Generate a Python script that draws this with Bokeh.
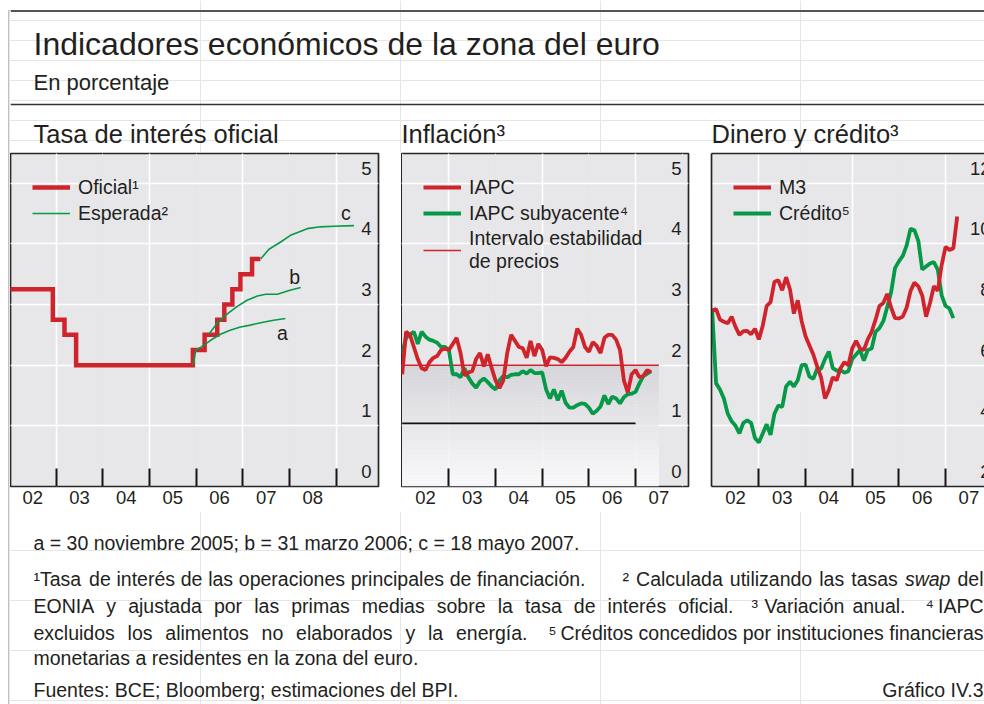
import datetime as dt
from bokeh.plotting import figure
from bokeh.models import Range1d, LinearAxis, FixedTicker, Grid, Legend, LegendItem
from bokeh.layouts import row, column
from bokeh.embed import file_html
from bokeh.resources import INLINE
from bokeh.core.properties import value

# ---------------------------------------------------------------- data
# Tasa de interés oficial (step dates / level, %)
official_dates = ["2002-01-01", "2002-12-06", "2003-03-07", "2003-06-06", "2005-12-06",
                  "2006-03-08", "2006-06-15", "2006-08-09", "2006-10-11", "2006-12-13",
                  "2007-03-14", "2007-05-18"]
official_rate = [3.25, 2.75, 2.50, 2.00, 2.25, 2.50, 2.75, 3.00, 3.25, 3.50, 3.75, 3.75]

# Esperada (expected path) a, b, c
exp_a_x = [2005.94, 2005.99, 2006.09, 2006.31, 2006.52, 2006.74, 2006.95, 2007.16, 2007.38, 2007.66, 2007.91]
exp_a_y = [2.00, 2.25, 2.29, 2.41, 2.51, 2.58, 2.63, 2.66, 2.70, 2.74, 2.77]
exp_b_x = [2006.27, 2006.45, 2006.66, 2006.88, 2007.09, 2007.31, 2007.49, 2007.74, 2007.99, 2008.24]
exp_b_y = [2.51, 2.69, 2.84, 2.97, 3.07, 3.14, 3.17, 3.17, 3.23, 3.28]
exp_c_x = [2007.38, 2007.56, 2007.81, 2008.02, 2008.38, 2008.66, 2008.95, 2009.38]
exp_c_y = [3.75, 3.91, 4.03, 4.14, 4.25, 4.28, 4.29, 4.30]
exp_labels = ["a", "b", "c"]

# Inflación (monthly, from Dec 2001)
infl_start = (2001, 12)
iapc = [1.85, 2.55, 2.50, 2.30, 2.10, 1.95, 1.92, 2.05, 2.12, 2.15, 2.25, 2.27,
        2.25, 2.35, 2.45, 2.20, 1.83, 1.88, 1.90, 2.10, 2.20, 1.98, 2.18, 1.95,
        1.75, 1.62, 1.75, 2.20, 2.50, 2.40, 2.30, 2.28, 2.12, 2.40, 2.15, 2.35,
        2.25, 1.98, 2.13, 2.12, 2.10, 2.05, 2.12, 2.22, 2.30, 2.60, 2.50, 2.30,
        2.22, 2.38, 2.32, 2.20, 2.45, 2.50, 2.50, 2.42, 2.25, 1.75, 1.55, 1.85,
        1.92, 1.80, 1.82, 1.92, 1.88]
iapc_sub = [2.20, 2.45, 2.50, 2.55, 2.35, 2.55, 2.47, 2.42, 2.40, 2.37, 2.30, 2.30,
            2.25, 1.85, 1.85, 1.80, 1.95, 1.80, 1.70, 1.63, 1.73, 1.78, 1.72, 1.65,
            1.60, 1.75, 1.82, 1.80, 1.84, 1.85, 1.85, 1.90, 1.86, 1.92, 1.87, 1.87,
            1.88, 1.60, 1.45, 1.60, 1.42, 1.58, 1.38, 1.30, 1.30, 1.34, 1.37, 1.36,
            1.30, 1.20, 1.25, 1.32, 1.50, 1.36, 1.48, 1.45, 1.37, 1.47, 1.52, 1.53,
            1.56, 1.70, 1.82, 1.86, 1.90]
# price-stability band and reference line
band_low, band_high = 0.0, 2.0
band_start, band_end = 2002.0, 2007.5
black_level, black_start, black_end = 1.04, 2002.0, 2007.0

# Dinero y crédito (monthly, from Dec 2001)
money_start = (2001, 12)
m3 = [7.80, 7.85, 7.50, 7.43, 7.38, 7.60, 7.26, 7.00, 7.12, 7.13, 7.02, 7.20,
      6.85, 7.30, 7.95, 8.08, 8.75, 8.80, 8.47, 8.90, 8.50, 7.70, 8.14, 7.45,
      6.95, 6.65, 6.35, 5.95, 5.60, 4.90, 5.18, 5.60, 5.50, 5.90, 6.10, 6.00,
      6.55, 6.80, 6.55, 6.50, 6.85, 7.10, 7.50, 7.95, 8.05, 8.35, 7.90, 7.55,
      7.54, 7.60, 7.90, 8.45, 8.72, 8.60, 8.30, 7.60, 8.05, 8.60, 8.45, 9.30,
      9.90, 9.80, 9.85, 10.90]
credito = [7.80, 5.40, 5.20, 4.90, 4.40, 4.15, 4.00, 3.75, 4.10, 4.18, 4.10, 3.60,
           3.45, 3.75, 4.05, 3.70, 4.40, 4.67, 4.62, 5.30, 5.45, 5.30, 5.50, 6.00,
           6.02, 5.62, 5.55, 5.88, 5.88, 6.20, 6.45, 5.90, 5.82, 5.84, 5.75, 5.80,
           6.20, 6.35, 6.50, 6.15, 6.50, 6.55, 7.10, 7.22, 7.45, 7.92, 8.40, 9.20,
           9.42, 9.60, 9.95, 10.50, 10.45, 10.10, 9.15, 9.25, 9.35, 9.40, 9.15, 8.30,
           7.95, 7.87, 7.55]

# axes
years_p1 = [2002, 2003, 2004, 2005, 2006, 2007, 2008]
labels_p1 = ["02", "03", "04", "05", "06", "07", "08"]
years_p23 = [2002, 2003, 2004, 2005, 2006, 2007]
labels_p23 = ["02", "03", "04", "05", "06", "07"]
yticks_pct = [0, 1, 2, 3, 4, 5]
yticks_money = [2, 4, 6, 8, 10, 12]

# ---------------------------------------------------------------- style
FONT = "Liberation Sans"
TXT = "#231f20"
RED = "#d0242c"
GREEN = "#079848"
BG = "#e7e7ea"
FRAME_C = "#262626"
PX_PER_YEAR = 46.67
PX_PER_UNIT = 60.67
FRAME_H = 333
AXIS_H = 25
NOTE_SIZE = 19.5
SERIES_W = 3.8

# Arial / Liberation Sans advance widths (1/1000 em) for justified notes
_W = {" ": 278, ".": 278, ",": 278, ";": 278, ":": 278, "=": 584,
      "a": 556, "b": 556, "c": 500, "d": 556, "e": 556, "f": 278, "g": 556, "h": 556,
      "i": 222, "j": 222, "k": 500, "l": 222, "m": 833, "n": 556, "o": 556, "p": 556,
      "q": 556, "r": 333, "s": 500, "t": 278, "u": 556, "v": 500, "w": 722, "x": 500,
      "y": 500, "z": 500, "á": 556, "é": 556, "í": 278, "ó": 556, "ú": 556, "ñ": 556,
      "A": 667, "B": 667, "C": 722, "E": 667, "I": 278, "N": 722, "O": 778, "P": 667,
      "T": 611, "V": 667, "\u00b9": 333, "\u00b2": 333, "\u00b3": 333, "\u2074": 333,
      "\u2075": 333}


def text_width(s, size):
    return sum(_W.get(ch, 556) for ch in s) * size / 1000.0


def dec_date(s):
    d = dt.date.fromisoformat(s)
    return d.year + (d.timetuple().tm_yday - 1) / 365.0


def month_x(start, n):
    y0, m0 = start
    return [y0 + (m0 + k) / 12.0 for k in range(n)]


def make_panel(frame_w, pad_left, pad_right, x_start, y_start, y_step, outline=True):
    x_end = x_start + frame_w / PX_PER_YEAR
    y_end = y_start + y_step * FRAME_H / PX_PER_UNIT
    p = figure(width=pad_left + frame_w + pad_right, height=1 + FRAME_H + AXIS_H,
               x_range=Range1d(x_start, x_end), y_range=Range1d(y_start, y_end),
               x_axis_location=None, y_axis_location=None, toolbar_location=None,
               output_backend="svg", min_border_left=pad_left, min_border_right=pad_right,
               min_border_top=1, min_border_bottom=AXIS_H,
               background_fill_color=BG, border_fill_color="white",
               outline_line_color=FRAME_C if outline else None, outline_line_width=1.7)
    return p


def add_xaxis(p, years, labels, bounds, line_color=None):
    mids = [y + 0.5 for y in years]
    ax = LinearAxis(ticker=FixedTicker(ticks=mids, minor_ticks=bounds),
                    major_label_overrides={m: l for m, l in zip(mids, labels)},
                    axis_line_color=line_color, axis_line_width=1.7,
                    major_tick_in=0, major_tick_out=0,
                    minor_tick_in=18, minor_tick_out=0,
                    minor_tick_line_color="#151515", minor_tick_line_width=2,
                    major_label_standoff=4,
                    major_label_text_font=FONT, major_label_text_font_size="18.5px",
                    major_label_text_color=TXT)
    p.add_layout(ax, "below")


def add_grids(p, xg, yg):
    p.add_layout(Grid(dimension=0, ticker=FixedTicker(ticks=xg),
                      grid_line_color="white", grid_line_width=1.5))
    p.add_layout(Grid(dimension=1, ticker=FixedTicker(ticks=yg),
                      grid_line_color="white", grid_line_width=1.5))


def add_ylabels(p, ticks, x_off):
    p.text(x=[p.x_range.end] * len(ticks), y=ticks, text=[str(t) for t in ticks],
           text_font=value(FONT), text_font_size=value("18.5px"), text_color=TXT,
           text_align="right", text_baseline="alphabetic", x_offset=x_off, y_offset=-15)


def add_legend(p, items):
    leg = Legend(items=[LegendItem(label=l, renderers=[r]) for l, r in items],
                 location="top_left", margin=22, padding=0, spacing=2,
                 glyph_width=38, glyph_height=24, label_height=24, label_standoff=8,
                 background_fill_alpha=0, border_line_color=None,
                 label_text_font=FONT, label_text_font_size="19.5px", label_text_color=TXT)
    p.add_layout(leg)


def ftext(p, x, y, s, size=NOTE_SIZE, align="left", style="normal", baseline="middle"):
    p.text(x=[x], y=[y], text=[s], text_font=value(FONT), text_font_size=value("%gpx" % size),
           text_align=align, text_baseline=baseline, text_color=TXT, text_font_style=style)


def justified(p, words, x0, x1, y, italic=()):
    widths = [text_width(w, NOTE_SIZE) for w in words]
    gap = (x1 - x0 - sum(widths)) / max(len(words) - 1, 1)
    x = x0
    for w, wd in zip(words, widths):
        ftext(p, x, y, w, style="italic" if w in italic else "normal")
        x += wd + gap


# ---------------------------------------------------------------- panel 1
p1 = make_panel(368, 0, 23, 2002 + 1 / PX_PER_YEAR, 0, 1)
add_grids(p1, [2003, 2005, 2007, 2009], [1, 2, 3, 4, 5])
add_xaxis(p1, years_p1, labels_p1, [2003, 2004, 2005, 2006, 2007, 2008, 2009])
r_off = p1.step(x=[dec_date(d) for d in official_dates], y=official_rate, mode="after",
                line_color=RED, line_width=4.5, line_join="miter")
exp_curves = [(exp_a_x, exp_a_y), (exp_b_x, exp_b_y), (exp_c_x, exp_c_y)]
exp_rs = [p1.line(x=cx, y=cy, line_color=GREEN, line_width=1.6) for cx, cy in exp_curves]
lab_off = [(-3, 15), (-6, -11), (-8, -13)]
for (cx, cy), lab, (dx, dy) in zip(exp_curves, exp_labels, lab_off):
    p1.text(x=[cx[-1]], y=[cy[-1]], text=[lab], x_offset=dx, y_offset=dy,
            text_font=value(FONT), text_font_size=value("19.5px"), text_color=TXT,
            text_align="center", text_baseline="middle")
add_ylabels(p1, yticks_pct, -7)
add_legend(p1, [("Oficial\u00b9", r_off), ("Esperada\u00b2", exp_rs[0])])

# ---------------------------------------------------------------- panel 2
p2 = make_panel(287, 0, 22, 2002 - 0.7 / PX_PER_YEAR, 0, 1)
add_grids(p2, [2003, 2005, 2007], [1, 2, 3, 4, 5])
add_xaxis(p2, years_p23, labels_p23, [2003, 2004, 2005, 2006, 2007])
n_steps = 40
c_top, c_bot = (210, 210, 215), (253, 253, 253)
for i in range(n_steps):
    f = (i + 0.5) / n_steps
    col = "#%02x%02x%02x" % tuple(int(round(c_bot[j] + (c_top[j] - c_bot[j]) * f)) for j in range(3))
    lo = band_low + (band_high - band_low) * i / n_steps
    hi = band_low + (band_high - band_low) * (i + 1) / n_steps
    p2.quad(left=[band_start], right=[band_end], bottom=[lo], top=[hi],
            fill_color=col, fill_alpha=0.88, line_color=None)
p2.line(x=[black_start, black_end], y=[black_level, black_level], line_color="#111111", line_width=1.6)
r_band = p2.line(x=[band_start, band_end], y=[band_high, band_high], line_color=RED, line_width=1.5)
r_sub = p2.line(x=month_x(infl_start, len(iapc_sub)), y=iapc_sub, line_color=GREEN, line_width=SERIES_W)
r_iapc = p2.line(x=month_x(infl_start, len(iapc)), y=iapc, line_color=RED, line_width=SERIES_W)
add_ylabels(p2, yticks_pct, -7)
add_legend(p2, [("IAPC", r_iapc), ("IAPC subyacente\u2074", r_sub),
                ("Intervalo estabilidad\nde precios", r_band)])

# ---------------------------------------------------------------- panel 3
p3 = make_panel(273, 1, 0, 2002 - 0.7 / PX_PER_YEAR, 2, 2, outline=False)
add_grids(p3, [2003, 2005, 2007], [4, 6, 8, 10, 12])
add_xaxis(p3, years_p23, labels_p23, [2003, 2004, 2005, 2006, 2007], line_color=FRAME_C)
for side in ("left", "above"):
    p3.add_layout(LinearAxis(ticker=FixedTicker(ticks=[]), axis_line_color=FRAME_C,
                             axis_line_width=1.7, major_tick_in=0, major_tick_out=0,
                             minor_tick_in=0, minor_tick_out=0,
                             major_label_text_font_size="0px"), side)
r_cred = p3.line(x=month_x(money_start, len(credito)), y=credito, line_color=GREEN, line_width=SERIES_W)
r_m3 = p3.line(x=month_x(money_start, len(m3)), y=m3, line_color=RED, line_width=SERIES_W)
add_ylabels(p3, yticks_money, 6)
add_legend(p3, [("M3", r_m3), ("Cr\u00e9dito\u2075", r_cred)])

# ---------------------------------------------------------------- header
hdr = figure(width=974, height=152, x_range=Range1d(10, 984), y_range=Range1d(152, 0),
             x_axis_location=None, y_axis_location=None, toolbar_location=None,
             output_backend="svg", min_border=0, outline_line_color=None,
             background_fill_color="white", border_fill_color="white")
hdr.segment(x0=[10, 10], y0=[10.5, 104], x1=[984, 984], y1=[10.5, 104],
            line_color=["#555555", "#333333"], line_width=[2, 1.6])
ftext(hdr, 33, 43, "Indicadores económicos de la zona del euro", size=32)
ftext(hdr, 33, 82, "En porcentaje", size=22)
ftext(hdr, 33, 133, "Tasa de interés oficial", size=25.5)
ftext(hdr, 401, 133, "Inflación\u00b3", size=25.5)
ftext(hdr, 711, 133, "Dinero y crédito\u00b3", size=25.5)

# ---------------------------------------------------------------- footer
ftr = figure(width=974, height=193, x_range=Range1d(10, 984), y_range=Range1d(704, 511),
             x_axis_location=None, y_axis_location=None, toolbar_location=None,
             output_backend="svg", min_border=0, outline_line_color=None,
             background_fill_color="white", border_fill_color="white")
ftext(ftr, 33, 542, "a = 30 noviembre 2005; b = 31 marzo 2006; c = 18 mayo 2007.")
justified(ftr, "\u00b9Tasa de interés de las operaciones principales de financiación.".split(), 33, 585, 578)
justified(ftr, "\u00b2 Calculada utilizando las tasas swap del".split(), 622, 983, 578, italic=("swap",))
justified(ftr, "EONIA y ajustada por las primas medias sobre la tasa de interés oficial.".split(), 33, 733, 605)
justified(ftr, "\u00b3 Variación anual.".split(), 751, 905, 605)
justified(ftr, "\u2074 IAPC".split(), 925, 983, 605)
justified(ftr, "excluidos los alimentos no elaborados y la energía.".split(), 33, 527, 632)
justified(ftr, "\u2075 Créditos concedidos por instituciones financieras".split(), 548, 983, 632)
ftext(ftr, 33, 657, "monetarias a residentes en la zona del euro.")
ftext(ftr, 33, 689, "Fuentes: BCE; Bloomberg; estimaciones del BPI.")
ftext(ftr, 983, 689, "Gráfico IV.3", align="right")

# ---------------------------------------------------------------- outer left border
lb = figure(width=10, height=704, x_range=Range1d(0, 1), y_range=Range1d(0, 1),
            x_axis_location=None, y_axis_location=None, toolbar_location=None,
            output_backend="svg", min_border=0, min_border_left=8, min_border_top=10,
            outline_line_color=None, background_fill_color="#3a3a3a", border_fill_color="white")

layout = row(lb, column(hdr, row(p1, p2, p3), ftr))
open("out.html", "w").write(file_html(layout, INLINE))
